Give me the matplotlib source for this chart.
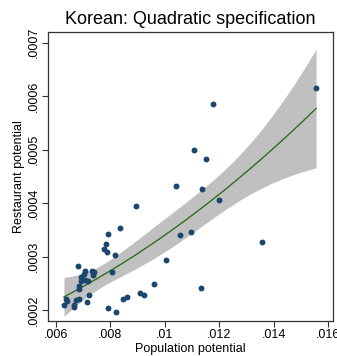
import numpy as np
import matplotlib
matplotlib.use("Agg")
import matplotlib.pyplot as plt

plt.rcParams['font.family'] = ['Liberation Sans', 'DejaVu Sans']

# Population potential (x) et restaurant potential (y)
pop = [0.01556, 0.01176, 0.01107, 0.01153, 0.01042, 0.01136, 0.01200, 0.008945,
       0.008364, 0.007912, 0.010563, 0.010956, 0.013585, 0.00785, 0.007776, 0.007879,
       0.008173, 0.010037, 0.00682, 0.007066, 0.007309, 0.007397, 0.007022, 0.007353,
       0.006912, 0.008059, 0.007077, 0.007169, 0.006938, 0.006857, 0.006864, 0.009603,
       0.011349, 0.007206, 0.009074, 0.009235, 0.008467, 0.008614, 0.006379, 0.006423,
       0.006298, 0.006662, 0.006654, 0.006746, 0.006857, 0.007151, 0.007915, 0.008217]
resto = [0.000616, 0.000586, 0.000499, 0.000482, 0.000432, 0.000426, 0.000407, 0.000394,
         0.000354, 0.000342, 0.000340, 0.000346, 0.000328, 0.000324, 0.000314, 0.000309,
         0.000304, 0.000294, 0.000282, 0.000274, 0.000274, 0.000272, 0.000268, 0.000266,
         0.000262, 0.000272, 0.000256, 0.000254, 0.000255, 0.000245, 0.000239, 0.000250,
         0.000241, 0.000229, 0.000233, 0.000229, 0.000221, 0.000224, 0.000222, 0.000217,
         0.000210, 0.000210, 0.000206, 0.000219, 0.000221, 0.000216, 0.000205, 0.000196]

xticks = [0.006, 0.008, 0.010, 0.012, 0.014, 0.016]
xtick_labels = [".006", ".008", ".01", ".012", ".014", ".016"]
yticks = [0.0002, 0.0003, 0.0004, 0.0005, 0.0006, 0.0007]
ytick_labels = [".0002", ".0003", ".0004", ".0005", ".0006", ".0007"]

x = np.array(pop)
y = np.array(resto)

# Ajustement quadratique + IC 95% de la prédiction moyenne (comme qfitci)
X = np.column_stack([np.ones_like(x), x, x ** 2])
beta, res, rank, sv = np.linalg.lstsq(X, y, rcond=None)
n = len(x)
resid = y - X @ beta
s2 = resid @ resid / (n - 3)
cov = s2 * np.linalg.inv(X.T @ X)
t975 = 2.014  # t(0.975, 45 ddl)

xg = np.linspace(x.min(), x.max(), 200)
Xg = np.column_stack([np.ones_like(xg), xg, xg ** 2])
yfit = Xg @ beta
se = np.sqrt(np.einsum("ij,jk,ik->i", Xg, cov, Xg))

fig = plt.figure(figsize=(3.37, 3.56), dpi=100)
ax = fig.add_axes([0.1424, 0.0983, 0.8456, 0.8117])

ax.fill_between(xg, yfit - t975 * se, yfit + t975 * se, color="#c0c0c0", linewidth=0, zorder=1)
ax.plot(xg, yfit, color="#2f6f22", linewidth=1.0, zorder=2)
ax.scatter(x, y, s=18, color="#1a476f", linewidths=0, zorder=3)

ax.set_xlim(0.00571, 0.01618)
ax.set_ylim(0.00018, 0.00072)
ax.set_xticks(xticks)
ax.set_xticklabels(xtick_labels, fontsize=9)
ax.set_yticks(yticks)
ax.set_yticklabels(ytick_labels, fontsize=9, rotation=90, va="center")
ax.tick_params(direction="out", length=4, width=0.8, color="#333333", pad=2)

for sp in ax.spines.values():
    sp.set_color("#333333")
    sp.set_linewidth(0.9)

ax.set_xlabel("Population potential", fontsize=9, labelpad=1)
ax.set_ylabel("Restaurant potential", fontsize=9, labelpad=2)
ax.set_title("Korean: Quadratic specification", fontsize=13, pad=6)

fig.savefig("out.png", dpi=100)
